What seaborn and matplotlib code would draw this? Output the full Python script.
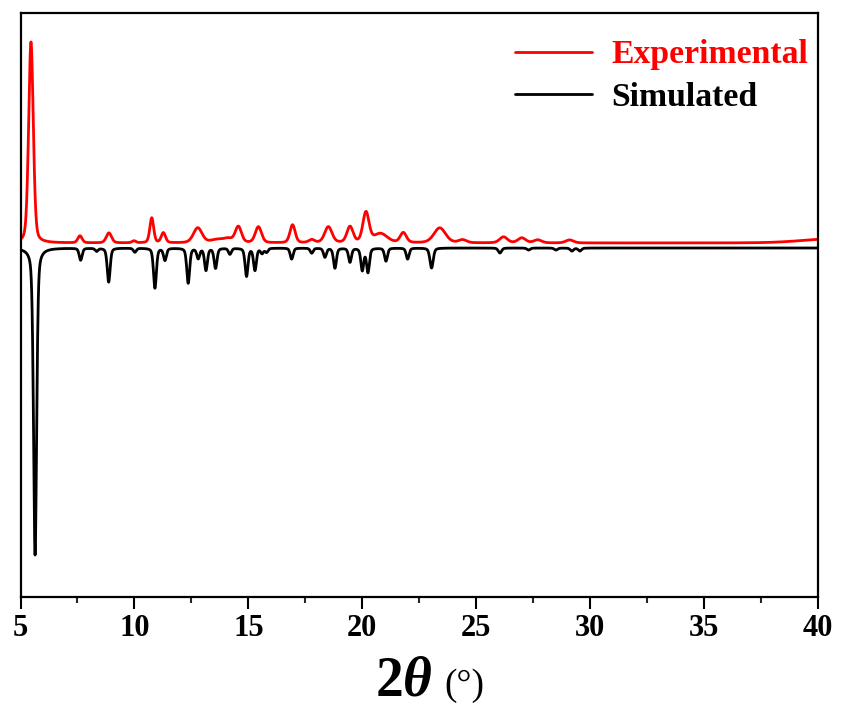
import numpy as np
import pandas as pd
import matplotlib
matplotlib.use("Agg")
import matplotlib.pyplot as plt
import seaborn as sns
from matplotlib.lines import Line2D

# Peak lists: position (2theta, deg), intensity (a.u.), FWHM (deg)
exp_pos = [5.46, 7.61, 8.88, 9.98, 10.76, 11.27, 12.78, 13.60, 14.10, 14.56,
           15.44, 16.94, 17.78, 18.51, 19.46, 20.16, 20.80, 21.80, 23.40, 24.40,
           26.20, 27.00, 27.70, 29.10, 40.50]
exp_int = [201, 7, 10, 2, 25, 10, 15, 3, 4, 16,
           16, 18, 3, 16, 16, 30, 9, 10, 15, 3,
           6, 5, 3, 3, 4]
exp_fwhm = [0.24, 0.22, 0.27, 0.20, 0.20, 0.22, 0.45, 0.60, 0.50, 0.32,
            0.32, 0.27, 0.30, 0.38, 0.32, 0.32, 0.70, 0.32, 0.60, 0.40,
            0.40, 0.40, 0.40, 0.40, 3.00]

sim_pos = [5.64, 7.64, 8.34, 8.87, 10.02, 10.90, 11.34, 12.36, 12.80, 13.14,
           13.56, 14.19, 14.92, 15.29, 15.60, 15.80, 16.90, 17.78, 18.36, 18.80,
           19.46, 20.00, 20.25, 21.04, 21.99, 23.04, 26.04, 27.30, 28.50, 29.20,
           29.55]
sim_int = [307, 12, 3, 34, 4, 40, 12, 35, 10, 22,
           20, 6, 28, 22, 5, 4, 11, 5, 9, 20,
           14, 22, 24, 13, 11, 20, 5, 2, 2, 3,
           3]
sim_fwhm = [0.16, 0.15, 0.15, 0.15, 0.15, 0.15, 0.15, 0.15, 0.15, 0.15,
            0.15, 0.15, 0.15, 0.15, 0.15, 0.15, 0.15, 0.15, 0.15, 0.15,
            0.15, 0.15, 0.15, 0.15, 0.15, 0.17, 0.17, 0.17, 0.17, 0.17,
            0.17]

exp_offset = 5.0
x_ticks = [5, 10, 15, 20, 25, 30, 35, 40]


def pseudo_voigt(x, x0, fwhm, eta):
    g = np.exp(-4 * np.log(2) * ((x - x0) / fwhm) ** 2)
    lor = 1.0 / (1.0 + 4 * ((x - x0) / fwhm) ** 2)
    return eta * lor + (1 - eta) * g


def profile(x, pos, inten, fwhm, eta):
    y = np.zeros_like(x)
    for p, h, w in zip(pos, inten, fwhm):
        y += h * pseudo_voigt(x, p, w, eta)
    return y


tt = np.round(np.arange(5.0, 40.0001, 0.01), 4)
y_exp = exp_offset + profile(tt, exp_pos, exp_int, exp_fwhm, 0.3)
y_sim = -profile(tt, sim_pos, sim_int, sim_fwhm, 0.4)

df = pd.concat([
    pd.DataFrame({"two_theta": tt, "intensity": y_exp, "pattern": "Experimental"}),
    pd.DataFrame({"two_theta": tt, "intensity": y_sim, "pattern": "Simulated"}),
])

sns.set_theme(style="ticks")
plt.rcParams["font.family"] = ["Liberation Serif", "DejaVu Serif"]
plt.rcParams["text.color"] = "black"
plt.rcParams["mathtext.fontset"] = "custom"
plt.rcParams["mathtext.rm"] = "Liberation Serif:bold"
plt.rcParams["mathtext.it"] = "Liberation Serif:italic:bold"

W, H = 841, 707
fig = plt.figure(figsize=(W / 100, H / 100), dpi=100)
ax = fig.add_axes([20.5 / W, 1 - 597 / H, 797.5 / W, 584 / H])

colors = {"Experimental": "#ff0000", "Simulated": "#000000"}
sns.lineplot(data=df, x="two_theta", y="intensity", hue="pattern",
             palette=colors, estimator=None, linewidth=2.0, ax=ax, legend=False)

ax.set_xlim(5, 40)
ax.set_ylim(-349, 235)
ax.set_xticks(x_ticks)
ax.set_xticks(np.arange(7.5, 40, 5), minor=True)
ax.set_yticks([])
ax.set_xlabel("")
ax.set_ylabel("")
for s in ax.spines.values():
    s.set_linewidth(1.6)
    s.set_color("black")
    s.set_visible(True)
ax.tick_params(axis="x", which="major", direction="out", length=8.5, width=1.5,
               labelsize=22, pad=4, colors="black")
ax.tick_params(axis="x", which="minor", direction="out", length=4.6, width=1.5)
for lab in ax.get_xticklabels():
    lab.set_fontweight("bold")

# Axis title: "2θ" in bold with an italic theta, unit in a smaller face
fig.text(375 / W, 1 - 695 / H, r"$2\theta$", fontsize=40, ha="left",
         va="baseline", color="black")
fig.text(444 / W, 1 - 695 / H, "(°)", fontsize=27, ha="left",
         va="baseline", color="black")

handles = [Line2D([], [], color=colors[k], lw=2.0) for k in ["Experimental", "Simulated"]]
leg = ax.legend(handles, ["Experimental", "Simulated"], loc="upper right",
                bbox_to_anchor=(1.0, 0.972), frameon=False,
                prop={"family": "Liberation Serif", "weight": "bold", "size": 24.3},
                handlelength=2.3, handletextpad=0.55, labelspacing=0.35,
                borderaxespad=0.3, borderpad=0.0)
for txt, k in zip(leg.get_texts(), ["Experimental", "Simulated"]):
    txt.set_color(colors[k])

fig.savefig("out.png", dpi=100)
